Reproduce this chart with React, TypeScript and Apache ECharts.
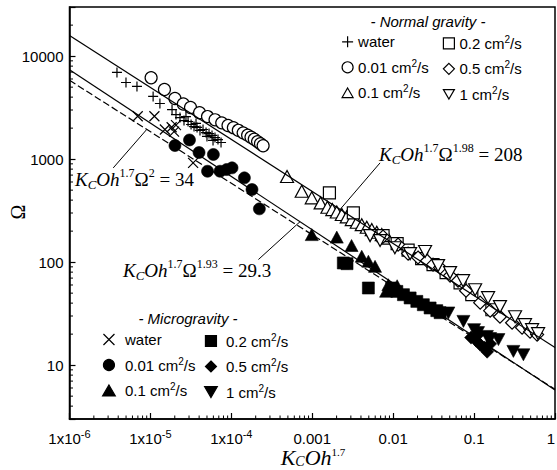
import React, { useEffect, useRef } from 'react';
import * as echarts from 'echarts';

const SANS = 'Liberation Sans, Arial, Helvetica, sans-serif';
const SERIF = 'Liberation Serif, Times New Roman, serif';

const X_MIN = 1e-6;
const X_MAX = 1;
const Y_MIN = 3;
const Y_MAX = 30000;

// Normal gravity
const ngWater = [[3.86e-6, 6950], [4.99e-6, 5550], [6.82e-6, 5080], [1.08e-5, 4060], [1.31e-5, 3470], [1.85e-5, 3030], [2.07e-5, 2710], [2.32e-5, 2530], [2.6e-5, 2370], [2.75e-5, 2590], [2.92e-5, 2320], [3.18e-5, 2170], [3.46e-5, 2070], [3.66e-5, 2220], [3.77e-5, 2030], [4.1e-5, 1900], [4.47e-5, 1940], [4.87e-5, 1810], [5.0e-5, 1660], [5.3e-5, 1770], [5.77e-5, 1700], [5.94e-5, 1520], [6.28e-5, 1620], [6.84e-5, 1550], [7.46e-5, 1450]];
const ng001 = [[1.02e-5, 6170], [1.49e-5, 4740], [2.01e-5, 3880], [2.55e-5, 3430], [3.13e-5, 3170], [4.05e-5, 2820], [5.08e-5, 2590], [6.29e-5, 2410], [7.61e-5, 2250], [9.1e-5, 2120], [1.06e-4, 2020], [1.22e-4, 1905], [1.4e-4, 1800], [1.59e-4, 1710], [1.75e-4, 1630], [1.92e-4, 1560], [2.11e-4, 1480], [2.29e-4, 1410], [2.47e-4, 1350]];
const ng01 = [[4.88e-4, 678], [7.41e-4, 488], [9.86e-4, 421], [1.27e-3, 376], [1.54e-3, 341], [1.77e-3, 324], [2.01e-3, 307], [2.32e-3, 290], [2.67e-3, 275], [3.08e-3, 259], [3.55e-3, 244], [4.09e-3, 231], [4.72e-3, 218], [5.44e-3, 207], [6.27e-3, 195], [7.23e-3, 185], [8.65e-3, 171]];
const ng02 = [[1.63e-3, 470], [3.22e-3, 301], [7.5e-3, 181], [0.0112, 151], [0.0153, 131], [0.0225, 108], [0.0311, 94.6], [0.0451, 79.1], [0.0671, 62.8], [0.0937, 48.3], [0.166, 34.5]];
const ng05 = [[7.5e-3, 177], [0.0115, 148], [0.0153, 121], [0.0203, 111], [0.0262, 103], [0.0311, 94.6], [0.038, 88.5], [0.0505, 74], [0.0634, 66.1], [0.0796, 52.8], [0.119, 40.4], [0.158, 33.8], [0.209, 29.5], [0.295, 25.8], [0.392, 23.1], [0.492, 21.1], [0.601, 19.8]];
const ng1 = [[5.18e-3, 181], [6.89e-3, 162], [0.0105, 138], [0.0162, 121], [0.0248, 127], [0.0359, 92.5], [0.0505, 79.1], [0.0731, 66.1], [0.103, 54], [0.149, 45.2], [0.209, 37], [0.321, 29.5], [0.426, 24.7], [0.521, 22.1], [0.618, 20.2]];

// Microgravity
const mgWater = [[6.97e-6, 2610], [1.12e-5, 2610], [1.51e-5, 1940], [1.83e-5, 2040], [1.96e-5, 1850], [2.07e-5, 2140], [3.37e-5, 921]];
const mg001 = [[2.01e-5, 1355], [3.04e-5, 1535], [3.99e-5, 1160], [6.0e-5, 1110], [5.08e-5, 763], [7.25e-5, 763], [8.72e-5, 792], [1.02e-4, 823], [1.45e-4, 658], [1.8e-4, 507], [2.22e-4, 329]];
const mg01 = [[9.86e-4, 185], [2.01e-3, 175], [3.06e-3, 145], [4.09e-3, 114], [4.94e-3, 102], [5.97e-3, 91], [8.17e-3, 52.2], [8.72e-3, 60.4], [9.7e-3, 54], [0.0112, 59]];
const mg02 = [[2.42e-3, 98.2], [2.69e-3, 96.6], [4.94e-3, 56.1], [9.61e-3, 56.1], [0.0111, 52], [0.0134, 48.3], [0.0162, 44.9], [0.0196, 41.6], [0.0236, 38.6], [0.0286, 35.9], [0.0346, 33.8], [0.038, 32.3]];
const mg05 = [[0.0918, 18.5], [0.106, 17.3], [0.112, 19.8], [0.119, 15.8], [0.133, 14.8], [0.145, 13.5], [0.158, 16.1]];
const mg1 = [[0.0481, 32.1], [0.0738, 26.6], [0.1, 22.1], [0.112, 20.7], [0.144, 19], [0.158, 18.1], [0.2, 17.7], [0.306, 13.6], [0.407, 12.6]];

// Fitted lines (end points)
const fitUpper = [[1e-6, 15900], [1, 14.8]];
const fitLower = [[1e-6, 7390], [1, 5.75]];
const fitDashed = [[1e-6, 5830], [1, 5.83]];

// Leader lines of the equation labels
const lead34 = [[3.47e-6, 822], [9.0e-6, 1940]];
const lead208 = [[6.89e-3, 920], [2.21e-3, 325]];
const lead293 = [[2.16e-4, 106], [7.06e-4, 247]];

const SYM = {
  plus: 'path://M5,0L5,10M0,5L10,5',
  cross: 'path://M0,0L10,10M10,0L0,10',
  square: 'path://M0,0L10,0L10,10L0,10Z',
  diamond: 'path://M5,0L10,5L5,10L0,5Z',
  triUp: 'path://M5,0L10,8.66L0,8.66Z',
  triDown: 'path://M0,0L10,0L5,8.66Z',
};

const LABELS: Record<string, string> = {
  ng_water: '{t|water}',
  ng_001: '{t|0.01 cm}{s|2}{t|/s}',
  ng_01: '{t|0.1 cm}{s|2}{t|/s}',
  ng_02: '{t|0.2 cm}{s|2}{t|/s}',
  ng_05: '{t|0.5 cm}{s|2}{t|/s}',
  ng_1: '{t|1 cm}{s|2}{t|/s}',
  mg_water: '{t|water}',
  mg_001: '{t|0.01 cm}{s|2}{t|/s}',
  mg_01: '{t|0.1 cm}{s|2}{t|/s}',
  mg_02: '{t|0.2 cm}{s|2}{t|/s}',
  mg_05: '{t|0.5 cm}{s|2}{t|/s}',
  mg_1: '{t|1 cm}{s|2}{t|/s}',
};

const eqRich = {
  k: { fontFamily: SERIF, fontStyle: 'italic', fontSize: 19, lineHeight: 24, color: '#000' },
  r: { fontFamily: SERIF, fontSize: 19, lineHeight: 24, color: '#000' },
  sup: { fontFamily: SERIF, fontSize: 12, lineHeight: 16, verticalAlign: 'top', color: '#000' },
  sub: { fontFamily: SERIF, fontStyle: 'italic', fontSize: 13, lineHeight: 11, verticalAlign: 'bottom', color: '#000' },
};

function scatter(name: string, data: number[][], symbol: string, size: any, kind: 'open' | 'filled' | 'stroke') {
  const itemStyle =
    kind === 'open'
      ? { color: '#fff', borderColor: '#000', borderWidth: 1.2, opacity: 1 }
      : kind === 'filled'
        ? { color: '#000', borderColor: '#000', borderWidth: 0.6, opacity: 1 }
        : { color: '#000', borderColor: '#000', borderWidth: 1.2, opacity: 1 };
  return { type: 'scatter', name, data, symbol, symbolSize: size, z: 2, itemStyle };
}

function line(data: number[][], width: number, dashed = false) {
  return {
    type: 'line',
    data,
    symbol: 'none',
    silent: true,
    z: 3,
    lineStyle: { color: '#000', width, type: dashed ? [7, 3] : 'solid' },
  };
}

export default function App() {
  const ref = useRef<HTMLDivElement>(null);

  useEffect(() => {
    if (!ref.current) return;
    const chart = echarts.init(ref.current, undefined, { renderer: 'svg' });

    // minor log ticks (decoration along the axes)
    const minorTicks: number[][] = [];
    for (let e = -6; e < 0; e++) {
      for (let m = 2; m <= 9; m++) minorTicks.push([m * Math.pow(10, e), Y_MIN, 0]);
    }
    for (let m = 4; m <= 9; m++) minorTicks.push([X_MIN, m, 1]);
    for (let e = 1; e <= 4; e++) {
      for (let m = 2; m <= 9; m++) {
        const v = m * Math.pow(10, e);
        if (v < Y_MAX) minorTicks.push([X_MIN, v, 1]);
      }
    }

    const legendCommon = {
      orient: 'vertical',
      padding: 0,
      itemGap: 9,
      itemWidth: 11,
      itemHeight: 11,
      selectedMode: false,
      itemStyle: { borderWidth: 1.2 },
      formatter: (name: string) => LABELS[name],
      textStyle: {
        color: '#000',
        fontFamily: SANS,
        fontSize: 15,
        rich: {
          t: { fontFamily: SANS, fontSize: 15, lineHeight: 18, color: '#000' },
          s: { fontFamily: SANS, fontSize: 10, lineHeight: 11, verticalAlign: 'top', color: '#000' },
        },
      },
    };

    const option: any = {
      animation: false,
      backgroundColor: '#fff',
      grid: {
        left: 69.5,
        right: 2,
        top: 7,
        bottom: 51,
        show: true,
        borderColor: '#000',
        borderWidth: 1.5,
        backgroundColor: 'transparent',
        containLabel: false,
        outerBoundsMode: 'none',
      },
      xAxis: {
        type: 'log',
        logBase: 10,
        min: X_MIN,
        max: X_MAX,
        axisLine: { show: true, lineStyle: { color: '#000', width: 1.5 } },
        axisTick: { show: true, inside: true, length: 6, lineStyle: { color: '#000', width: 1.2 } },
        splitLine: { show: false },
        axisLabel: {
          margin: 9.5,
          interval: 0,
          showMinLabel: true,
          showMaxLabel: true,
          alignMaxLabel: 'right',
          formatter: (v: number) => {
            const e = Math.round(Math.log10(v));
            if (Math.abs(Math.log10(v) - e) > 1e-6) return '';
            if (e <= -4) return `{a|1x10}{e|${e}}`;
            return `{a|${v.toFixed(Math.max(0, -e))}}`;
          },
          rich: {
            a: { fontFamily: SANS, fontSize: 15, lineHeight: 20, color: '#000' },
            e: { fontFamily: SANS, fontSize: 11, lineHeight: 10, verticalAlign: 'top', color: '#000' },
          },
        },
      },
      yAxis: {
        type: 'log',
        logBase: 10,
        min: Y_MIN,
        max: Y_MAX,
        axisLine: { show: true, lineStyle: { color: '#000', width: 1.5 } },
        axisTick: { show: true, inside: true, length: 6, lineStyle: { color: '#000', width: 1.2 } },
        splitLine: { show: false },
        axisLabel: {
          margin: 6,
          color: '#000',
          fontFamily: SANS,
          fontSize: 15,
          formatter: (v: number) => {
            const l = Math.log10(v);
            if (Math.abs(l - Math.round(l)) > 1e-6) return '';
            return String(Math.round(v));
          },
        },
      },
      legend: [
        { ...legendCommon, left: 341.5, top: 34.3, data: ['ng_water', 'ng_001', 'ng_01'] },
        { ...legendCommon, left: 442.8, top: 34.3, data: ['ng_02', 'ng_05', 'ng_1'] },
        { ...legendCommon, itemWidth: 22, left: 102, top: 332, data: ['mg_water', 'mg_001', 'mg_01'] },
        { ...legendCommon, itemWidth: 20, left: 204, top: 332, data: ['mg_02', 'mg_05', 'mg_1'] },
      ],
      graphic: [
        {
          type: 'text', x: 428, y: 21,
          style: { text: '- Normal gravity -', fontFamily: SANS, fontStyle: 'italic', fontSize: 15, fill: '#000', align: 'center', verticalAlign: 'middle' },
        },
        {
          type: 'text', x: 188, y: 318,
          style: { text: '- Microgravity -', fontFamily: SANS, fontStyle: 'italic', fontSize: 15, fill: '#000', align: 'center', verticalAlign: 'middle' },
        },
        {
          type: 'text', x: 75, y: 179,
          style: { text: '{k|K}{sub|C}{k|Oh}{sup|1.7}{r|Ω}{sup|2}{r| = 34}', rich: eqRich, align: 'left', verticalAlign: 'middle' },
        },
        {
          type: 'text', x: 379, y: 154,
          style: { text: '{k|K}{sub|C}{k|Oh}{sup|1.7}{r|Ω}{sup|1.98}{r| = 208}', rich: eqRich, align: 'left', verticalAlign: 'middle' },
        },
        {
          type: 'text', x: 123, y: 270,
          style: { text: '{k|K}{sub|C}{k|Oh}{sup|1.7}{r|Ω}{sup|1.93}{r| = 29.3}', rich: eqRich, align: 'left', verticalAlign: 'middle' },
        },
        {
          type: 'text', x: 313, y: 457.5,
          style: {
            text: '{k|K}{sub|C}{k|Oh}{sup|1.7}',
            rich: {
              k: { fontFamily: SERIF, fontStyle: 'italic', fontSize: 22, lineHeight: 22, color: '#000' },
              sup: { fontFamily: SERIF, fontSize: 11, lineHeight: 10, verticalAlign: 'top', color: '#000' },
              sub: { fontFamily: SERIF, fontStyle: 'italic', fontSize: 14, lineHeight: 8, verticalAlign: 'bottom', color: '#000' },
            },
            align: 'center',
            verticalAlign: 'middle',
          },
        },
        {
          type: 'text', x: 18, y: 212, rotation: Math.PI / 2,
          style: { text: 'Ω', fontFamily: SERIF, fontSize: 20, fill: '#000', align: 'center', verticalAlign: 'middle' },
        },
      ],
      series: [
        line(fitUpper, 1.2),
        line(fitLower, 1.2),
        line(fitDashed, 1.2, true),
        line(lead34, 1),
        line(lead208, 1),
        line(lead293, 1),
        scatter('ng_water', ngWater, SYM.plus, 10, 'stroke'),
        scatter('ng_001', ng001, 'circle', 12, 'open'),
        scatter('ng_01', ng01, SYM.triUp, [13, 12], 'open'),
        scatter('ng_02', ng02, SYM.square, 12, 'open'),
        scatter('ng_05', ng05, SYM.diamond, 13, 'open'),
        scatter('ng_1', ng1, SYM.triDown, [13, 12], 'open'),
        scatter('mg_water', mgWater, SYM.cross, 10, 'stroke'),
        scatter('mg_001', mg001, 'circle', 12, 'filled'),
        scatter('mg_01', mg01, SYM.triUp, [13, 12], 'filled'),
        scatter('mg_02', mg02, SYM.square, 12, 'filled'),
        scatter('mg_05', mg05, SYM.diamond, 13, 'filled'),
        scatter('mg_1', mg1, SYM.triDown, [13, 12], 'filled'),
        {
          type: 'custom',
          coordinateSystem: 'cartesian2d',
          silent: true,
          z: 6,
          data: minorTicks,
          encode: { x: 0, y: 1 },
          renderItem: (params: any, api: any) => {
            const p = api.coord([api.value(0), api.value(1)]);
            const flag = api.value(2);
            const shape = flag === 0
              ? { x1: p[0], y1: p[1], x2: p[0], y2: p[1] - 3.5 }
              : { x1: p[0], y1: p[1], x2: p[0] + 3.5, y2: p[1] };
            return { type: 'line', shape, style: { stroke: '#000', lineWidth: 1 } };
          },
        },
      ],
    };

    chart.setOption(option);
    return () => chart.dispose();
  }, []);

  return (
    <div
      ref={ref}
      style={{ position: 'fixed', left: 0, top: 0, width: 557, height: 470, background: '#fff' }}
    />
  );
}
